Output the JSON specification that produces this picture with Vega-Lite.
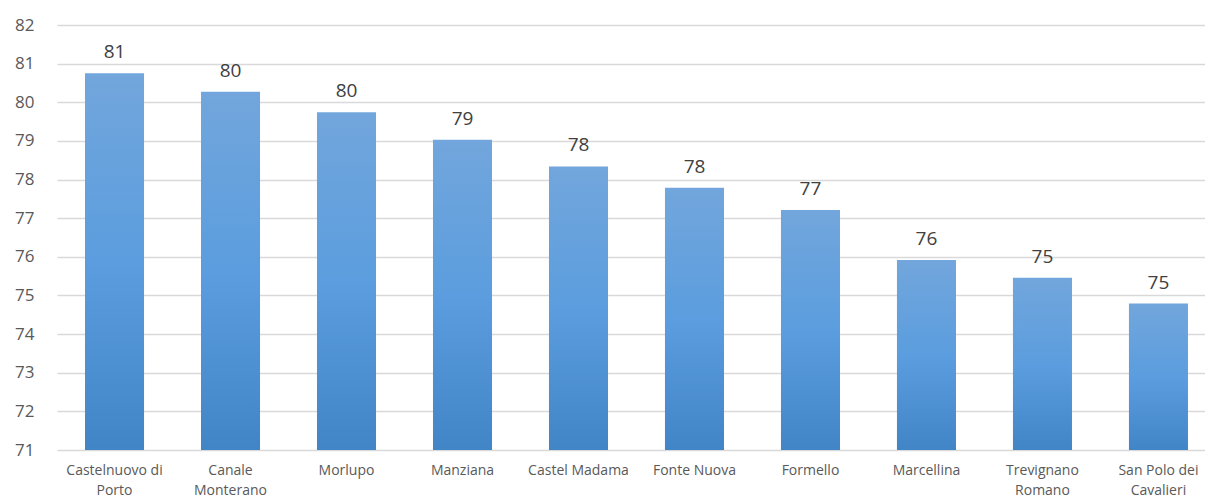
{
  "$schema": "https://vega.github.io/schema/vega-lite/v6.json",
  "autosize": {"type": "none"},
  "padding": {"left": 57, "top": 25, "right": 0, "bottom": 50},
  "width": 1148,
  "height": 425,
  "background": "white",
  "config": {"view": {"stroke": null}, "font": "Open Sans"},
  "data": {"values": [
    {"comune": "Castelnuovo di Porto", "valore": 80.75},
    {"comune": "Canale Monterano", "valore": 80.27},
    {"comune": "Morlupo", "valore": 79.74},
    {"comune": "Manziana", "valore": 79.03},
    {"comune": "Castel Madama", "valore": 78.34},
    {"comune": "Fonte Nuova", "valore": 77.79},
    {"comune": "Formello", "valore": 77.21},
    {"comune": "Marcellina", "valore": 75.92},
    {"comune": "Trevignano Romano", "valore": 75.46},
    {"comune": "San Polo dei Cavalieri", "valore": 74.79}
  ]},
  "encoding": {
    "x": {
      "field": "comune", "type": "nominal", "sort": null,
      "scale": {"paddingInner": 0.491, "paddingOuter": 0.194, "align": 0.622},
      "axis": {
        "title": null, "domain": false, "ticks": false, "labelAngle": 0,
        "labelFontSize": 14, "labelColor": "#595959", "labelPadding": 13,
        "labelLineHeight": 20, "labelBaseline": "top", "labelOverlap": false,
        "labelExpr": "length(datum.label) > 14 ? [slice(datum.label, 0, lastindexof(datum.label, ' ')), slice(datum.label, lastindexof(datum.label, ' ') + 1)] : datum.label"
      }
    },
    "y": {
      "field": "valore", "type": "quantitative",
      "scale": {"domain": [71, 82], "zero": false, "nice": false},
      "axis": {
        "title": null, "domain": false, "ticks": false, "tickCount": 30, "format": "d",
        "labelFontSize": 17, "labelColor": "#595959", "labelPadding": 23,
        "labelOverlap": false, "labelFlush": false,
        "gridColor": "#D9D9D9", "gridWidth": 1.3,
        "values": [71, 72, 73, 74, 75, 76, 77, 78, 79, 80, 81, 82]
      }
    }
  },
  "layer": [
    {
      "mark": {
        "type": "bar",
        "color": {
          "gradient": "linear", "x1": 0, "y1": 0, "x2": 0, "y2": 1,
          "stops": [
            {"offset": 0, "color": "#72A6DC"},
            {"offset": 0.5, "color": "#5B9DDE"},
            {"offset": 1, "color": "#4285C6"}
          ]
        }
      },
      "encoding": {
        "y2": {"datum": 71}
      }
    },
    {
      "mark": {"type": "text", "baseline": "bottom", "dy": -11, "fontSize": 19, "color": "#404040"},
      "encoding": {
        "text": {"field": "valore", "type": "quantitative", "format": ".0f"}
      }
    }
  ]
}
